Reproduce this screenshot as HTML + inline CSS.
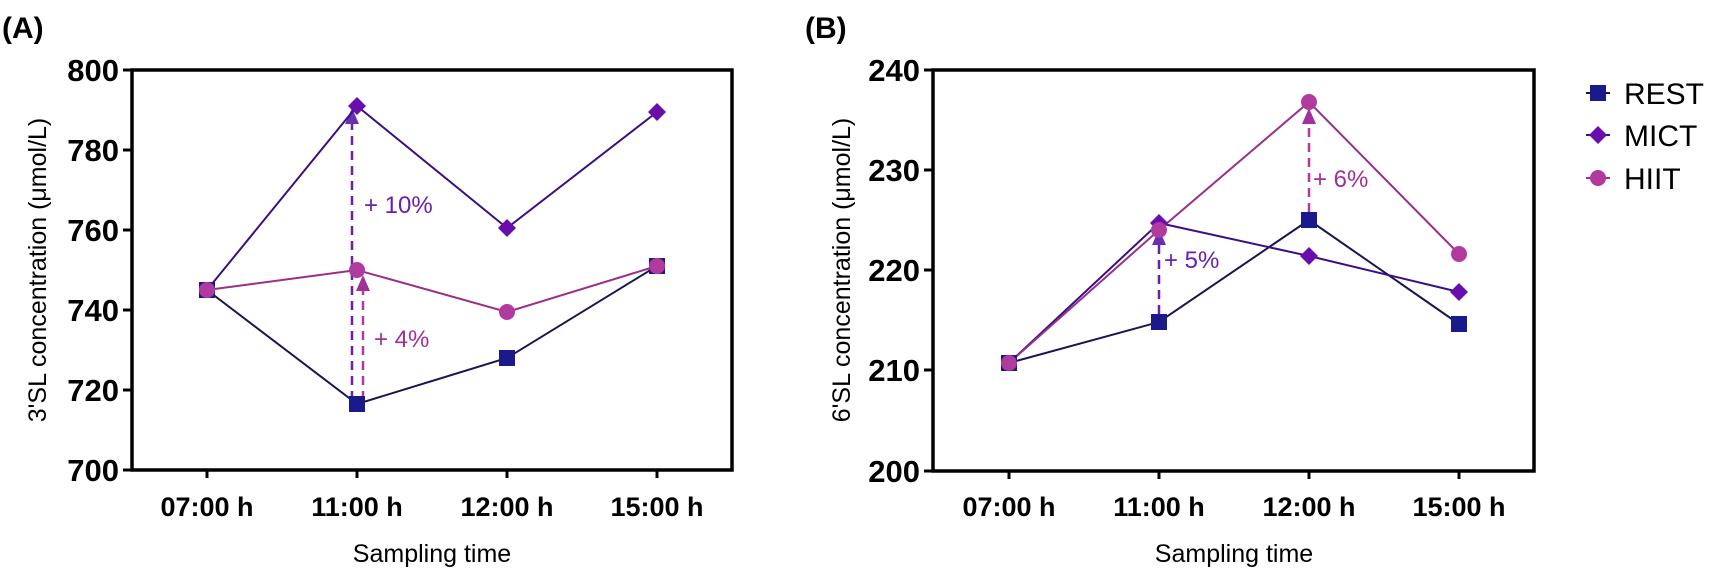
<!DOCTYPE html>
<html><head><meta charset="utf-8"><style>
html,body{margin:0;padding:0;background:#fff;}
svg{display:block;font-family:"Liberation Sans",Arial,sans-serif;}
</style></head><body>
<svg width="1712" height="571" viewBox="0 0 1712 571" xmlns="http://www.w3.org/2000/svg">
<!-- Panel A -->
<text x="2" y="38" font-size="30" font-weight="bold">(A)</text>
<rect x="132" y="70" width="600" height="400" fill="none" stroke="#000" stroke-width="3.5"/>
<g stroke="#000" stroke-width="3">
<line x1="123" y1="70" x2="132" y2="70"/><line x1="123" y1="150" x2="132" y2="150"/><line x1="123" y1="230" x2="132" y2="230"/><line x1="123" y1="310" x2="132" y2="310"/><line x1="123" y1="390" x2="132" y2="390"/><line x1="123" y1="470" x2="132" y2="470"/>
<line x1="207" y1="470" x2="207" y2="478"/><line x1="357" y1="470" x2="357" y2="478"/><line x1="507" y1="470" x2="507" y2="478"/><line x1="657" y1="470" x2="657" y2="478"/>
</g>
<g font-size="31" font-weight="bold" text-anchor="end">
<text x="119" y="81">800</text><text x="119" y="161">780</text><text x="119" y="241">760</text><text x="119" y="321">740</text><text x="119" y="401">720</text><text x="119" y="481">700</text>
</g>
<g font-size="27" font-weight="bold" text-anchor="middle">
<text x="207" y="516">07:00 h</text><text x="357" y="516">11:00 h</text><text x="507" y="516">12:00 h</text><text x="657" y="516">15:00 h</text>
</g>
<text x="432" y="562" font-size="25" text-anchor="middle">Sampling time</text>
<text transform="translate(46,270) rotate(-90)" font-size="25" text-anchor="middle">3'SL concentration (μmol/L)</text>
<!-- arrows A -->
<line x1="352" y1="400" x2="352" y2="122" stroke="#6a1fb0" stroke-width="2.5" stroke-dasharray="9,6"/>
<polygon points="352,108 345,124 359,124" fill="#6a2fb0"/>
<line x1="363" y1="400" x2="363" y2="290" stroke="#b03a9e" stroke-width="2.5" stroke-dasharray="9,6"/>
<polygon points="363,275 356,291 370,291" fill="#a0309a"/>
<text x="364" y="213" font-size="24" fill="#6a1fb0">+ 10%</text>
<text x="374" y="347" font-size="24" fill="#a0309a">+ 4%</text>
<!-- series A -->
<polyline points="207,290 357,404 507,358 657,266" fill="none" stroke="#1c1450" stroke-width="2"/>
<polyline points="207,290 357,106 507,228 657,112" fill="none" stroke="#3a1080" stroke-width="2"/>
<polyline points="207,290 357,270 507,312 657,266" fill="none" stroke="#9a2f8a" stroke-width="2"/>
<g fill="#1a1a8c"><rect x="199" y="282" width="16" height="16"/><rect x="349" y="396" width="16" height="16"/><rect x="499" y="350" width="16" height="16"/><rect x="649" y="258" width="16" height="16"/></g>
<g fill="#6a0dad"><polygon points="357,97 366,106 357,115 348,106"/><polygon points="507,219 516,228 507,237 498,228"/><polygon points="657,103 666,112 657,121 648,112"/></g>
<g fill="#b03a9e"><circle cx="207" cy="290" r="8"/><circle cx="357" cy="270" r="8"/><circle cx="507" cy="312" r="8"/><circle cx="657" cy="266" r="8"/></g>
<!-- Panel B -->
<text x="805" y="38" font-size="30" font-weight="bold">(B)</text>
<rect x="933" y="70" width="601" height="401" fill="none" stroke="#000" stroke-width="3.5"/>
<g stroke="#000" stroke-width="3">
<line x1="924" y1="70" x2="933" y2="70"/><line x1="924" y1="170" x2="933" y2="170"/><line x1="924" y1="270" x2="933" y2="270"/><line x1="924" y1="370" x2="933" y2="370"/><line x1="924" y1="471" x2="933" y2="471"/>
<line x1="1009" y1="471" x2="1009" y2="479"/><line x1="1159" y1="471" x2="1159" y2="479"/><line x1="1309" y1="471" x2="1309" y2="479"/><line x1="1459" y1="471" x2="1459" y2="479"/>
</g>
<g font-size="31" font-weight="bold" text-anchor="end">
<text x="920" y="81">240</text><text x="920" y="181">230</text><text x="920" y="281">220</text><text x="920" y="381">210</text><text x="920" y="482">200</text>
</g>
<g font-size="27" font-weight="bold" text-anchor="middle">
<text x="1009" y="516">07:00 h</text><text x="1159" y="516">11:00 h</text><text x="1309" y="516">12:00 h</text><text x="1459" y="516">15:00 h</text>
</g>
<text x="1234" y="562" font-size="25" text-anchor="middle">Sampling time</text>
<text transform="translate(850,270) rotate(-90)" font-size="25" text-anchor="middle">6'SL concentration (μmol/L)</text>
<!-- arrows B -->
<line x1="1159" y1="314" x2="1159" y2="244" stroke="#6a1fb0" stroke-width="2.5" stroke-dasharray="9,6"/>
<polygon points="1159,229 1152,245 1166,245" fill="#6a2fb0"/>
<line x1="1309" y1="212" x2="1309" y2="124" stroke="#b03a9e" stroke-width="2.5" stroke-dasharray="9,6"/>
<polygon points="1309,108 1302,124 1316,124" fill="#a0309a"/>
<text x="1164" y="268" font-size="24" fill="#6a1fb0">+ 5%</text>
<text x="1313" y="187" font-size="24" fill="#a0309a">+ 6%</text>
<!-- series B -->
<polyline points="1009,363 1159,322 1309,220 1459,324" fill="none" stroke="#1c1450" stroke-width="2"/>
<polyline points="1009,363 1159,223 1309,256 1459,292" fill="none" stroke="#3a1080" stroke-width="2"/>
<polyline points="1009,363 1159,230 1309,102 1459,254" fill="none" stroke="#9a2f8a" stroke-width="2"/>
<g fill="#1a1a8c"><rect x="1001" y="355" width="16" height="16"/><rect x="1151" y="314" width="16" height="16"/><rect x="1301" y="212" width="16" height="16"/><rect x="1451" y="316" width="16" height="16"/></g>
<g fill="#6a0dad"><polygon points="1159,214 1168,223 1159,232 1150,223"/><polygon points="1309,247 1318,256 1309,265 1300,256"/><polygon points="1459,283 1468,292 1459,301 1450,292"/></g>
<g fill="#b03a9e"><circle cx="1009" cy="363" r="8"/><circle cx="1159" cy="230" r="8"/><circle cx="1309" cy="102" r="8"/><circle cx="1459" cy="254" r="8"/></g>
<!-- legend -->
<line x1="1586" y1="93" x2="1610" y2="93" stroke="#1c1450" stroke-width="2"/>
<rect x="1590" y="85" width="16" height="16" fill="#1a1a8c"/>
<text x="1624" y="104" font-size="30">REST</text>
<line x1="1586" y1="135" x2="1610" y2="135" stroke="#3a1080" stroke-width="2"/>
<polygon points="1598,126 1607,135 1598,144 1589,135" fill="#6a0dad"/>
<text x="1624" y="146" font-size="30">MICT</text>
<line x1="1586" y1="178" x2="1610" y2="178" stroke="#9a2f8a" stroke-width="2"/>
<circle cx="1598" cy="178" r="8" fill="#b03a9e"/>
<text x="1624" y="189" font-size="30">HIIT</text>
</svg>
</body></html>
